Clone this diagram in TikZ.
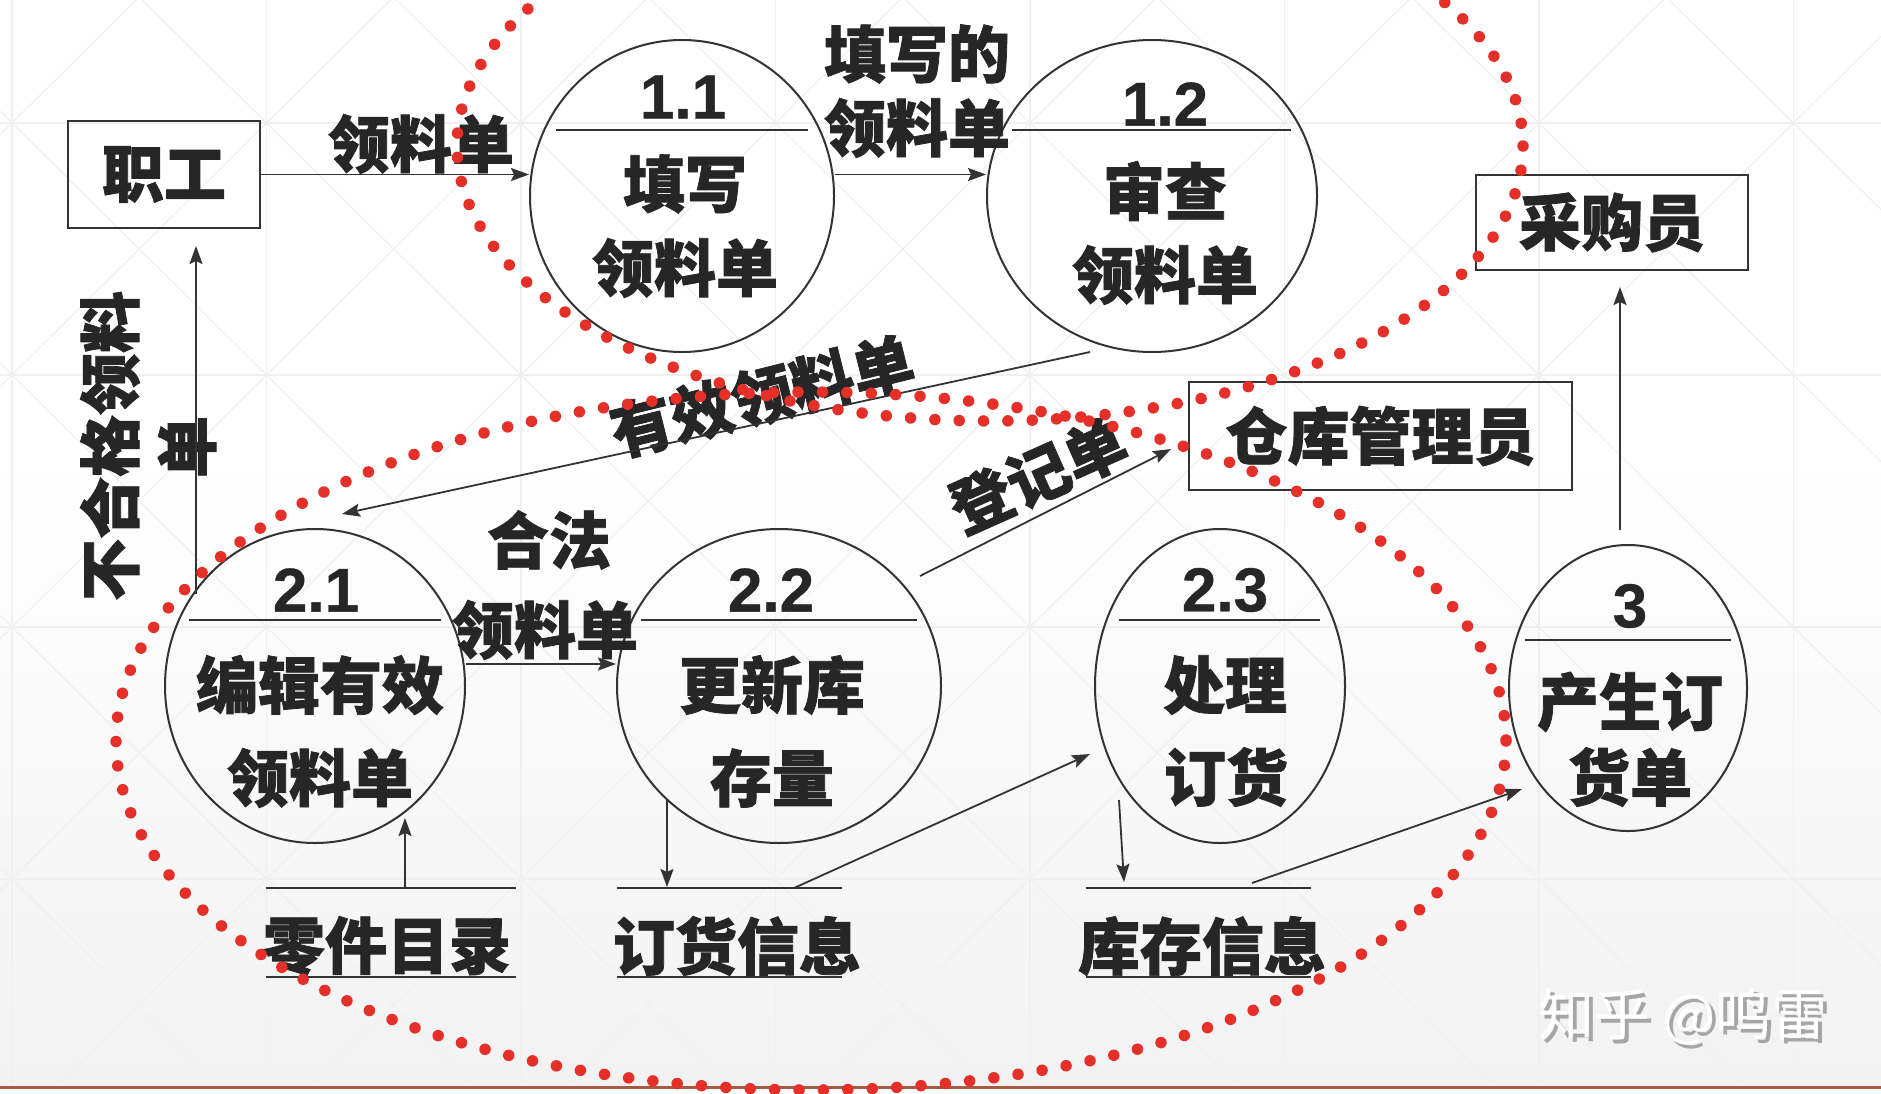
\documentclass[tikz,border=0pt]{standalone}
\usepackage{fontspec}
\newfontfamily\cjk{Noto Sans CJK SC}[BoldFeatures={FakeBold=1.2}]
\newfontfamily\cjkw{Noto Sans CJK SC}
\newfontfamily\numf{Liberation Sans}[BoldFeatures={FakeBold=0.6}]
\usetikzlibrary{arrows.meta,shapes.geometric}
\definecolor{ink}{HTML}{262626}
\definecolor{ln}{HTML}{333333}
\definecolor{reddot}{HTML}{E5302A}
\definecolor{gridc}{HTML}{F0F0F0}
\definecolor{bline}{HTML}{A65A45}
\definecolor{bgbot}{HTML}{F2F2F2}
\begin{document}
\begin{tikzpicture}[x=1pt,y=-1pt,
  txt/.style={inner sep=0pt, text=ink, font=\cjk\bfseries\fontsize{62}{70}\selectfont},
  num/.style={inner sep=0pt, text=ink, font=\numf\bfseries\fontsize{62}{70}\selectfont},
  proc/.style={ellipse, draw=ln, line width=2pt, inner sep=0pt},
  ext/.style={rectangle, draw=ln, line width=2pt, inner sep=0pt, text=ink, font=\cjk\bfseries\fontsize{62}{70}\selectfont},
  store/.style={rectangle, inner sep=0pt},
  sline/.style={draw=ln, line width=2pt},
  arr/.style={draw=ln, line width=1.8pt, -{Stealth[length=18pt,width=13pt,inset=3pt]}},
  sep/.style={draw=ln, line width=2pt},
  dots/.style={draw=reddot, line width=11.5pt, line cap=round},
  wm/.style={inner sep=0pt, font=\cjkw\fontsize{56}{60}\selectfont},
]
\useasboundingbox (0,0) rectangle (1881,1093);
% background
\fill[white] (0,0) rectangle (1881,1093);
\shade[top color=white, bottom color=bgbot] (0,450) rectangle (1881,1087);
\begin{scope}
\clip (0,0) rectangle (1881,1087);
\foreach \i in {0,...,7} \draw[gridc, line width=1.5pt] (12+254.5*\i,0) -- (12+254.5*\i,1093);
\foreach \j in {0,...,4} \draw[gridc, line width=1.5pt] (0,123+252*\j) -- (1881,123+252*\j);
\foreach \i in {-6,...,8} {
  \draw[gridc, line width=1.2pt] (12+254.5*\i,-129) -- ++(254.5*6,252*6);
  \draw[gridc, line width=1.2pt] (12+254.5*\i,-129) -- ++(-254.5*6,252*6);
}
\end{scope}

% external entities
\node[ext, minimum width=192pt, minimum height=107pt] (zg) at (164,174.5) {职工};
\node[ext, minimum width=272pt, minimum height=95pt] (cgy) at (1612,222.5) {采购员};
\node[ext, minimum width=383pt, minimum height=108pt] (ckg) at (1380.5,436) {仓库管理员};

% processes
\node[proc, minimum width=304pt, minimum height=312pt] (c11) at (682,196) {};
\node[proc, minimum width=330pt, minimum height=312pt] (c12) at (1152,196) {};
\node[proc, minimum width=300pt, minimum height=314pt] (c21) at (315,686) {};
\node[proc, minimum width=324pt, minimum height=314pt] (c22) at (779,686) {};
\node[proc, minimum width=250pt, minimum height=314pt] (c23) at (1220,686) {};
\node[proc, minimum width=238pt, minimum height=286pt] (c3) at (1628,688) {};

\draw[sep] (556,130) -- (808,130);
\draw[sep] (1012,130) -- (1291,130);
\draw[sep] (189,620) -- (441,620);
\draw[sep] (641,620) -- (917,620);
\draw[sep] (1119,620) -- (1320,620);
\draw[sep] (1525,640) -- (1731,640);

\node[num] (n11) at (683,97) {1.1};
\node[txt] (t11a) at (685,184) {填写};
\node[txt] (t11b) at (685,268) {领料单};
\node[num] (n12) at (1165,104) {1.2};
\node[txt] (t12a) at (1165,191) {审查};
\node[txt] (t12b) at (1165,275) {领料单};
\node[num] (n21) at (316,590) {2.1};
\node[txt] (t21a) at (320,685) {编辑有效};
\node[txt] (t21b) at (320,778) {领料单};
\node[num] (n22) at (771,590) {2.2};
\node[txt] (t22a) at (772,685) {更新库};
\node[txt] (t22b) at (772,778) {存量};
\node[num] (n23) at (1225,590) {2.3};
\node[txt] (t23a) at (1225,685) {处理};
\node[txt] (t23b) at (1226,777) {订货};
\node[num] (n3) at (1630,606) {3};
\node[txt] (t3a) at (1630,702) {产生订};
\node[txt] (t3b) at (1630,777) {货单};

% data stores
\node[store, minimum width=250pt, minimum height=89pt] (s1) at (391,932.5) {};
\node[store, minimum width=225pt, minimum height=89pt] (s2) at (729.5,932.5) {};
\node[store, minimum width=225pt, minimum height=89pt] (s3) at (1198.5,932.5) {};
\foreach \s in {s1,s2,s3} {
  \draw[sline] (\s.north west) -- (\s.north east);
  \draw[sline] (\s.south west) -- (\s.south east);
}
\node[txt] (ts1) at (387,946) {零件目录};
\node[txt] (ts2) at (737,946) {订货信息};
\node[txt] (ts3) at (1202,946) {库存信息};

% flow labels
\node[txt] (l1) at (421,144) {领料单};
\node[txt] (l2a) at (917,54) {填写的};
\node[txt] (l2b) at (917,128) {领料单};
\node[txt, rotate=14] (l3) at (762,396) {有效领料单};
\node[txt, rotate=90] (l4a) at (110,446) {不合格领料};
\node[txt, rotate=90] (l4b) at (187,447) {单};
\node[txt] (l5a) at (549,540) {合法};
\node[txt] (l5b) at (545,630) {领料单};
\node[txt, rotate=24] (l6) at (1038,475) {登记单};

% connector end points
\coordinate (p1) at (1090,352);
\coordinate (p2) at (342,514);
\coordinate (q1) at (196,594);
\coordinate (r1) at (920,576);
\coordinate (r2) at (1171,449);
\coordinate (u1) at (1620,530);
\coordinate (v1) at (405,888);
\coordinate (v2) at (405,818);
\coordinate (w1) at (667,800);
\coordinate (w2) at (667,887);
\coordinate (x1) at (794,888);
\coordinate (x2) at (1090,754);
\coordinate (y1) at (1119,800);
\coordinate (y2) at (1124,882);
\coordinate (z1) at (1252,883);
\coordinate (z2) at (1522,789);

% connectors
\draw[arr] (zg.east) -- (zg.east -| c11.west);
\draw[arr] (c11.east |- 0,174.5) -- (c12.west |- 0,174.5);
\draw[arr] (p1) -- (p2);
\draw[arr, shorten >=17pt] (q1) -- (q1 |- zg.south);
\draw[arr] (c21.east |- 0,664) -- (c22.west |- 0,664);
\draw[arr] (r1) -- (r2);
\draw[arr, shorten >=16pt] (u1) -- (u1 |- cgy.south);
\draw[arr] (v1) -- (v2);
\draw[arr] (w1) -- (w2);
\draw[arr] (x1) -- (x2);
\draw[arr] (y1) -- (y2);
\draw[arr] (z1) -- (z2);

% watermark
\node[wm, text=gray!70] (wm1) at (1687,1021) {知乎 @鸣雷};
\node[wm, text=white] (wm2) at (1683,1017) {知乎 @鸣雷};

% bottom rule
\draw[bline, line width=3pt] (0,1087) -- (1881,1087);

% red dotted outlines
\begin{scope}
\clip (0,0) rectangle (1881,1093);
\draw[dots, dash pattern=on 0pt off 24.35pt] (990,146) ellipse [x radius=533, y radius=275];
\draw[dots, dash pattern=on 0pt off 24.42pt] (811,741) ellipse [x radius=695, y radius=349];
\end{scope}
\end{tikzpicture}
\end{document}
